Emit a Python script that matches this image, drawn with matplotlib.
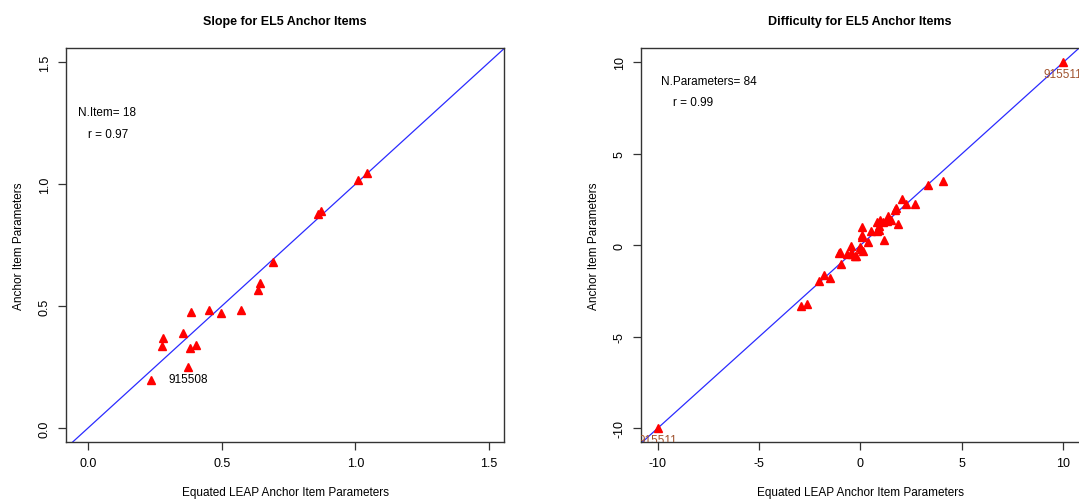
import matplotlib
matplotlib.use("Agg")
import matplotlib.pyplot as plt

plt.rcParams['font.family'] = ['Liberation Sans', 'DejaVu Sans']
plt.rcParams['axes.unicode_minus'] = False

# slope panel
slope_x = [0.236, 0.375, 0.382, 0.403, 0.276, 0.282, 0.357, 0.386, 0.453, 0.496,
           0.571, 0.636, 0.643, 0.693, 0.860, 0.872, 1.010, 1.044]
slope_y = [0.197, 0.251, 0.329, 0.339, 0.336, 0.369, 0.389, 0.477, 0.485, 0.470,
           0.485, 0.567, 0.594, 0.682, 0.877, 0.889, 1.016, 1.045]
slope_label = "915508"
slope_label_xy = (0.375, 0.251)

# difficulty panel
diff_x = [10.0, -10.0, 4.06, 3.35, 2.05, 2.25, 2.69, 1.77, 1.71, 1.38, 0.97, 1.13,
          0.80, 1.30, 1.49, 0.90, 1.85, 0.06, 0.51, 0.84, 0.93, 0.08, 0.09, 1.15,
          0.37, -0.45, -0.02, 0.01, -1.07, -0.65, -0.48, -0.22, 0.11, -0.97, -1.78,
          -1.50, -2.04, -2.95, -2.62, -0.41, -0.25, -1.0]
diff_y = [10.0, -10.0, 3.51, 3.31, 2.55, 2.24, 2.24, 2.04, 1.93, 1.60, 1.40, 1.29,
          1.26, 1.33, 1.40, 1.07, 1.18, 1.00, 0.77, 0.80, 0.85, 0.58, 0.47, 0.27,
          0.20, -0.05, -0.08, -0.20, -0.40, -0.49, -0.44, -0.58, -0.31, -1.00, -1.60,
          -1.80, -1.97, -3.30, -3.22, -0.49, -0.57, -0.38]
diff_labels = ["915511", "915511"]
diff_label_xy = [(10.0, 10.0), (-10.0, -10.0)]

fig = plt.figure(figsize=(10.79, 5.02), dpi=100)
ax1 = fig.add_axes([66 / 1079, 1 - 443 / 502, 438 / 1079, 394.3 / 502])
ax2 = fig.add_axes([641 / 1079, 1 - 443 / 502, 438.5 / 1079, 394.3 / 502])


def style(ax, title):
    for s in ax.spines.values():
        s.set_color('#333333')
        s.set_linewidth(1.0)
    ax.tick_params(direction='out', length=6, width=0.9, color='#333333',
                   labelsize=9, pad=5)
    for lab in ax.get_yticklabels():
        lab.set_rotation(90)
        lab.set_va('center')
    ax.set_title(title, fontsize=9, fontweight='bold', pad=17)
    ax.set_xlabel("Equated LEAP Anchor Item Parameters", fontsize=8.5, labelpad=12)
    ax.set_ylabel("Anchor Item Parameters", fontsize=8.5, labelpad=10)


# left
ax1.set_xlim(-0.082, 1.556)
ax1.set_ylim(-0.057, 1.56)
ax1.plot([-1, 2], [-1, 2], color='#2b2bff', lw=0.9)
ax1.plot(slope_x, slope_y, '^', color='red', ms=6, mec='red')
ax1.text(slope_label_xy[0], slope_label_xy[1] - 0.05, slope_label, ha='center',
         va='center', fontsize=8.5)
ax1.text(0.071, 1.295, "N.Item= 18", ha='center', va='center', fontsize=8.5)
ax1.text(0.075, 1.205, "r = 0.97", ha='center', va='center', fontsize=8.5)
ax1.set_xticks([0, 0.5, 1.0, 1.5])
ax1.set_xticklabels(["0.0", "0.5", "1.0", "1.5"])
ax1.set_yticks([0, 0.5, 1.0, 1.5])
ax1.set_yticklabels(["0.0", "0.5", "1.0", "1.5"])
style(ax1, "Slope for EL5 Anchor Items")

# right
ax2.set_xlim(-10.82, 10.8)
ax2.set_ylim(-10.75, 10.8)
ax2.plot([-12, 12], [-12, 12], color='#2b2bff', lw=0.9)
ax2.plot(diff_x, diff_y, '^', color='red', ms=6, mec='red')
for lab, (lx, ly) in zip(diff_labels, diff_label_xy):
    ax2.text(lx, ly - 0.62, lab, ha='center', va='center', fontsize=8.5,
             color='#a0522d', clip_on=True)
ax2.text(-7.49, 9.0, "N.Parameters= 84", ha='center', va='center', fontsize=8.5)
ax2.text(-8.26, 7.85, "r = 0.99", ha='center', va='center', fontsize=8.5)
ax2.set_xticks([-10, -5, 0, 5, 10])
ax2.set_yticks([-10, -5, 0, 5, 10])
style(ax2, "Difficulty for EL5 Anchor Items")

fig.savefig("out.png", dpi=100)
